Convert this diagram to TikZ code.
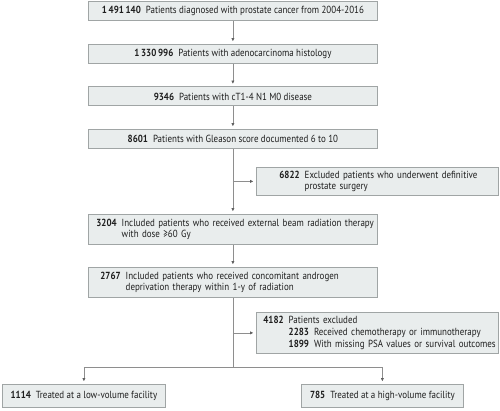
\documentclass[tikz,border=0pt]{standalone}
\usepackage{fontspec}
\setmainfont{PT Sans}[FakeStretch=0.87]
\usetikzlibrary{arrows.meta}
\definecolor{boxfill}{HTML}{E9EDED}
\definecolor{boxline}{HTML}{A0A5A5}
\definecolor{linecol}{HTML}{8E8E8E}
\definecolor{tipcol}{HTML}{606060}
\definecolor{txtcol}{HTML}{1E1E1E}
\tikzset{
  box/.style={draw=boxline, fill=boxfill, line width=0.8pt, anchor=north west, inner sep=0pt,
    text=txtcol, font=\fontsize{10.3}{11}\selectfont},
  conn/.style={draw=linecol, line width=0.7pt},
  arr/.style={conn, -{Latex[length=3.4pt,width=3.2pt,color=tipcol]}, shorten >=2.5pt},
}
\newcommand{\nb}[1]{\textbf{#1}}
\newcommand{\gap}{\hspace{5pt}}
\begin{document}
\begin{tikzpicture}[x=1pt,y=-1pt]
\useasboundingbox (0,0) rectangle (500,411);
% main boxes
\node[box, minimum width=289pt, minimum height=19pt] (b1) at (88,1.5) {\nb{1\,491\,140}\gap Patients diagnosed with prostate cancer from 2004-2016};
\node[box, minimum width=289pt, minimum height=19pt] (b2) at (88,44) {\nb{1\,330\,996}\gap Patients with adenocarcinoma histology};
\node[box, minimum width=289pt, minimum height=19pt] (b3) at (88,86.5) {\nb{9346}\gap Patients with cT1-4 N1 M0 disease};
\node[box, minimum width=289pt, minimum height=19pt] (b4) at (88,129) {\nb{8601}\gap Patients with Gleason score documented 6 to 10};
\node[box, minimum width=289pt, minimum height=30pt, text width=273pt, inner xsep=8pt, align=left] (b5) at (88,214)
  {\begin{tabular}{@{}l@{\gap}l@{}}\nb{3204} & Included patients who received external beam radiation therapy\\ & with dose ≥60 Gy\end{tabular}};
\node[box, minimum width=289pt, minimum height=30pt, text width=265pt, inner xsep=12pt, align=left] (b6) at (88,267)
  {\begin{tabular}{@{}l@{\gap}l@{}}\nb{2767} & Included patients who received concomitant androgen\\ & deprivation therapy within 1-y of radiation\end{tabular}};
% exclusion boxes
\node[box, minimum width=242pt, minimum height=28pt, text width=196pt, inner xsep=23pt, align=left] (e1) at (256,167)
  {\begin{tabular}{@{}l@{\gap}l@{}}\nb{6822} & Excluded patients who underwent definitive\\ & prostate surgery\end{tabular}};
\node[box, minimum width=242pt, minimum height=41pt, text width=228pt, inner xsep=7pt, align=left] (e2) at (256,312)
  {\renewcommand{\arraystretch}{1.09}\begin{tabular}{@{}l@{\gap}l@{\gap}l@{}}\nb{4182} & \multicolumn{2}{@{}l@{}}{Patients excluded}\\ & \nb{2283} & Received chemotherapy or immunotherapy\\ & \nb{1899} & With missing PSA values or survival outcomes\end{tabular}};
% final boxes
\node[box, minimum width=163pt, minimum height=23pt] (f1) at (2,384) {\nb{1114}\gap Treated at a low-volume facility};
\node[box, minimum width=162pt, minimum height=23pt] (f2) at (301,384) {\nb{785}\gap Treated at a high-volume facility};
% connectors
\draw[arr] (b1.south) -- (b1.south |- b2.north);
\draw[arr] (b2.south) -- (b2.south |- b3.north);
\draw[arr] (b3.south) -- (b3.south |- b4.north);
\draw[arr] (b4.south) -- (b4.south |- b5.north);
\coordinate (j1) at (b4.south |- e1.west);
\draw[arr] (j1) -- (e1.west);
\draw[arr] (b5.south) -- (b5.south |- b6.north);
\coordinate (j2) at (b6.south |- e2.west);
\draw[arr] (j2) -- (e2.west);
\coordinate (split) at (b6.south |- 0,367);
\draw[conn] (b6.south) -- (split);
\coordinate (sl) at (f1.north |- split);
\coordinate (sr) at (f2.north |- split);
\draw[conn] (sl) -- (sr);
\draw[arr] (sl) -- (f1.north);
\draw[arr] (sr) -- (f2.north);
\end{tikzpicture}
\end{document}
